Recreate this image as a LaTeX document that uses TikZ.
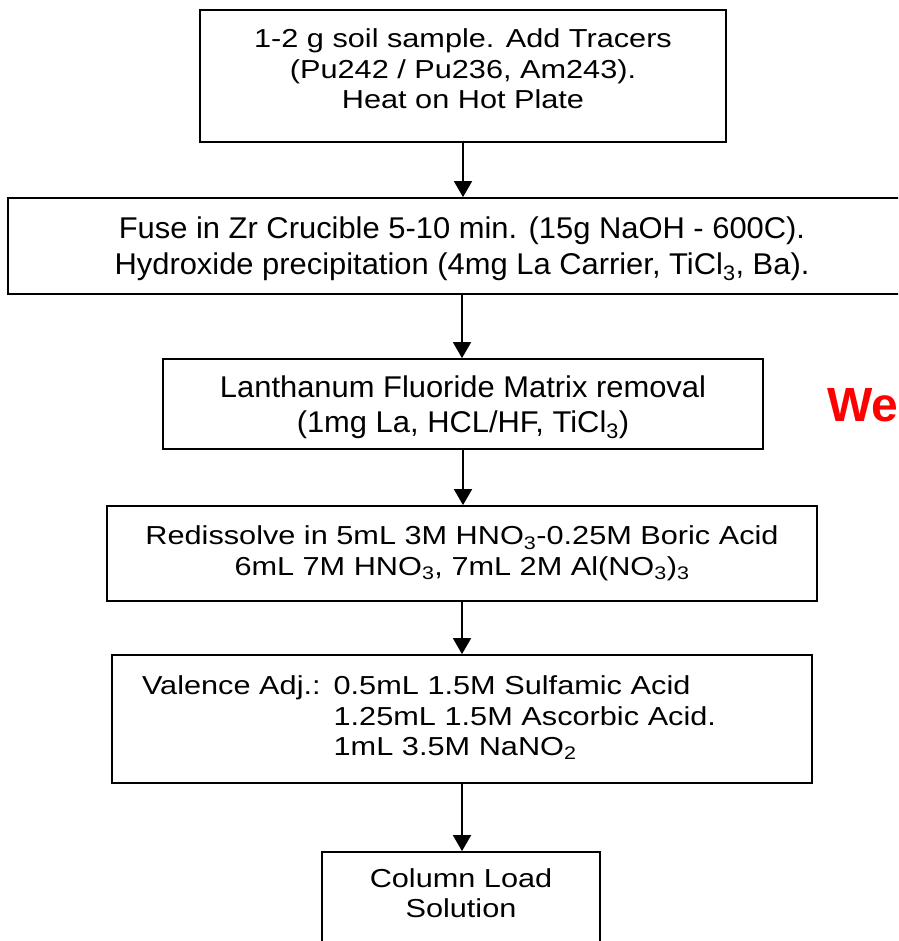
\documentclass[tikz,border=0pt]{standalone}
\usepackage{fontspec}
\setmainfont{Liberation Sans}
\newfontfamily\boxfont[FakeStretch=1.18]{Liberation Sans}
\newfontfamily\narrowfont[FakeStretch=1.03]{Liberation Sans}
\usetikzlibrary{arrows.meta}
\begin{document}
\begin{tikzpicture}[x=1pt,y=-1pt,
  stepbox/.style={draw, line width=1.8pt, inner sep=0pt, align=center,
    font=\boxfont\fontsize{26}{30.5}\selectfont},
  widebox/.style={stepbox, font=\narrowfont\fontsize{30}{36}\selectfont},
  arr/.style={line width=1.8pt, -{Triangle[width=18pt,length=16pt]}}]
\useasboundingbox (0,0) rectangle (898,941);
\clip (0,0) rectangle (898,941);

\node[stepbox, minimum width=526pt, minimum height=132pt, text depth=14pt] (b1) at (463,76)
  {1-2 g soil sample. Add Tracers\\(Pu242 / Pu236, Am243).\\Heat on Hot Plate};
\node[widebox, minimum width=908pt, minimum height=96pt, text depth=0pt] (b2) at (462,246)
  {Fuse in Zr Crucible 5-10 min. (15g NaOH - 600C).\\Hydroxide precipitation (4mg La Carrier, TiCl\textsubscript{3}, Ba).};
\node[widebox, minimum width=600pt, minimum height=90pt, text depth=0pt,
  font=\narrowfont\fontsize{30}{35}\selectfont] (b3) at (463,404)
  {Lanthanum Fluoride Matrix removal\\(1mg La, HCL/HF, TiCl\textsubscript{3})};
\node[stepbox, minimum width=710pt, minimum height=95pt] (b4) at (462,553.5)
  {Redissolve in 5mL 3M HNO\textsubscript{3}-0.25M Boric Acid\\6mL 7M HNO\textsubscript{3}, 7mL 2M Al(NO\textsubscript{3})\textsubscript{3}};
\node[stepbox, text width=640pt, inner xsep=30pt, align=left, minimum height=128pt] (b5) at (462,719)
  {\begin{tabular}{@{}l@{ }l@{}}Valence Adj.: & 0.5mL 1.5M Sulfamic Acid\\ & 1.25mL 1.5M Ascorbic Acid.\\ & 1mL 3.5M NaNO\textsubscript{2}\end{tabular}};
\node[stepbox, minimum width=278pt, minimum height=96pt, text depth=14pt] (b6) at (461,900)
  {Column Load\\Solution};

\node[anchor=base west, inner sep=0pt, text=red, font=\bfseries\fontsize{48}{52}\selectfont] (we) at (827,421) {We};

\draw[arr] (b1.south) -- (b1.south |- b2.north);
\draw[arr] (b2.south) -- (b2.south |- b3.north);
\draw[arr] (b3.south) -- (b3.south |- b4.north);
\draw[arr] (b4.south) -- (b4.south |- b5.north);
\draw[arr] (b5.south) -- (b5.south |- b6.north);
\end{tikzpicture}
\end{document}
